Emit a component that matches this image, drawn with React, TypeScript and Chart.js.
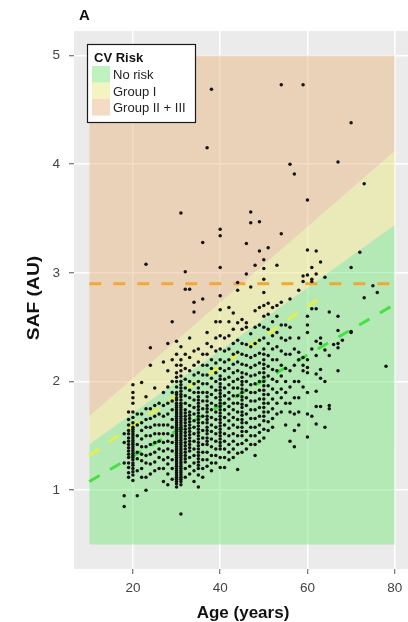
import React, { useEffect, useRef } from "react";
import { Chart, registerables } from "chart.js";

Chart.register(...registerables);

// ---- axis ticks ----
const xTicks = [20, 40, 60, 80];
const yTicks = [1, 2, 3, 4, 5];

// ---- observed points: SAF values per age column ----
const ageColumns = [
  18, 19, 20, 21, 22, 23, 24, 25, 26, 27, 28, 29, 30, 31, 32, 33, 34, 35, 36, 37, 38, 39,
  40, 41, 42, 43, 44, 45, 46, 47, 48, 49, 50, 51, 52, 53, 54, 55, 56, 57, 58, 59, 60, 61,
  62, 63, 64, 65, 66, 67, 68, 70, 72, 73, 75, 76, 78,
];
const safByAge = [
  [0.85, 0.95, 1.25, 1.44, 1.52],
  [1.12, 1.16, 1.21, 1.25, 1.3, 1.33, 1.36, 1.39, 1.42, 1.45, 1.48, 1.52, 1.55, 1.6, 1.65, 1.72],
  [1.09, 1.14, 1.17, 1.2, 1.23, 1.25, 1.28, 1.3, 1.32, 1.34, 1.36, 1.38, 1.4, 1.42, 1.44, 1.46, 1.48, 1.5, 1.52, 1.54, 1.56, 1.58, 1.62, 1.67, 1.72, 1.8, 1.85, 1.9, 1.97],
  [0.95, 1.18, 1.29, 1.35, 1.42, 1.5, 1.6, 1.7],
  [1.12, 1.2, 1.27, 1.33, 1.4, 1.47, 1.55, 1.62, 1.7, 1.99],
  [1.0, 1.12, 1.25, 1.32, 1.4, 1.5, 1.58, 1.65, 1.75, 1.86, 3.08],
  [1.15, 1.24, 1.33, 1.42, 1.5, 1.58, 1.66, 1.75, 2.15, 2.31],
  [1.18, 1.26, 1.35, 1.44, 1.52, 1.6, 1.68, 1.78, 1.94],
  [1.2, 1.3, 1.38, 1.45, 1.52, 1.6, 1.7, 1.8],
  [1.08, 1.2, 1.28, 1.36, 1.44, 1.52, 1.6, 1.68, 1.78, 1.9, 2.18],
  [1.05, 1.15, 1.24, 1.3, 1.38, 1.45, 1.52, 1.6, 1.7, 1.8, 1.95, 2.1, 2.35],
  [1.1, 1.2, 1.28, 1.36, 1.44, 1.5, 1.58, 1.65, 1.74, 1.82, 1.9, 2.0, 2.2, 2.55],
  [1.03, 1.06, 1.08, 1.1, 1.12, 1.14, 1.16, 1.18, 1.2, 1.22, 1.24, 1.26, 1.28, 1.3, 1.32, 1.34, 1.36, 1.38, 1.4, 1.42, 1.44, 1.46, 1.48, 1.5, 1.52, 1.54, 1.56, 1.58, 1.6, 1.62, 1.64, 1.66, 1.68, 1.7, 1.72, 1.74, 1.76, 1.78, 1.8, 1.83, 1.85, 1.88, 1.9, 1.95, 2.0, 2.04, 2.08, 2.15, 2.25, 2.37],
  [0.78, 1.05, 1.08, 1.1, 1.12, 1.14, 1.16, 1.18, 1.2, 1.22, 1.24, 1.26, 1.28, 1.3, 1.32, 1.34, 1.36, 1.38, 1.4, 1.42, 1.44, 1.46, 1.48, 1.5, 1.52, 1.54, 1.56, 1.58, 1.6, 1.62, 1.64, 1.66, 1.68, 1.7, 1.72, 1.74, 1.76, 1.78, 1.8, 1.83, 1.86, 1.88, 1.91, 1.94, 1.97, 2.0, 2.05, 2.1, 2.15, 2.2, 2.32, 3.55],
  [1.12, 1.2, 1.26, 1.29, 1.32, 1.35, 1.38, 1.41, 1.44, 1.47, 1.5, 1.53, 1.56, 1.59, 1.62, 1.65, 1.68, 1.71, 1.74, 1.8, 1.87, 1.94, 2.02, 2.12, 2.25, 2.85, 3.01],
  [1.15, 1.22, 1.3, 1.36, 1.39, 1.42, 1.45, 1.48, 1.51, 1.54, 1.57, 1.6, 1.63, 1.66, 1.69, 1.72, 1.78, 1.85, 1.92, 2.0, 2.1, 2.22, 2.4, 2.85],
  [1.08, 1.18, 1.25, 1.32, 1.38, 1.45, 1.52, 1.58, 1.64, 1.7, 1.76, 1.83, 1.9, 1.98, 2.06, 2.15, 2.28, 2.64, 2.73],
  [1.03, 1.14, 1.2, 1.23, 1.26, 1.29, 1.32, 1.35, 1.38, 1.41, 1.44, 1.47, 1.5, 1.53, 1.56, 1.59, 1.62, 1.65, 1.68, 1.71, 1.74, 1.77, 1.8, 1.83, 1.86, 1.9, 1.94, 2.0, 2.08, 2.18, 2.3],
  [1.12, 1.2, 1.28, 1.35, 1.42, 1.48, 1.55, 1.62, 1.68, 1.75, 1.82, 1.9, 1.98, 2.06, 2.15, 2.25, 2.76, 3.28],
  [1.22, 1.28, 1.35, 1.42, 1.45, 1.48, 1.52, 1.55, 1.58, 1.62, 1.65, 1.68, 1.72, 1.75, 1.78, 1.82, 1.86, 1.9, 1.98, 2.06, 2.15, 2.25, 2.35, 2.45, 4.15],
  [1.18, 1.25, 1.32, 1.4, 1.47, 1.54, 1.6, 1.67, 1.74, 1.8, 1.88, 1.95, 2.03, 2.12, 2.2, 2.32, 4.69],
  [1.25, 1.32, 1.38, 1.45, 1.52, 1.58, 1.65, 1.72, 1.78, 1.85, 1.92, 2.0, 2.08, 2.17, 2.28, 2.4, 2.55],
  [1.21, 1.3, 1.38, 1.41, 1.44, 1.47, 1.5, 1.53, 1.56, 1.59, 1.62, 1.65, 1.68, 1.71, 1.74, 1.77, 1.8, 1.83, 1.86, 1.89, 1.92, 1.95, 1.98, 2.02, 2.05, 2.12, 2.2, 2.3, 2.42, 2.55, 2.66, 2.79, 3.05, 3.34, 3.4],
  [1.21, 1.3, 1.38, 1.45, 1.52, 1.6, 1.67, 1.74, 1.8, 1.87, 1.94, 2.02, 2.1, 2.18, 2.28, 2.4],
  [1.28, 1.35, 1.42, 1.5, 1.57, 1.64, 1.7, 1.77, 1.84, 1.9, 1.97, 2.04, 2.12, 2.2, 2.3, 2.42, 2.55, 2.68],
  [1.3, 1.38, 1.45, 1.52, 1.6, 1.67, 1.74, 1.8, 1.87, 1.94, 2.0, 2.08, 2.16, 2.25, 2.35, 2.48, 2.63],
  [1.19, 1.34, 1.42, 1.5, 1.58, 1.65, 1.72, 1.8, 1.87, 1.94, 2.02, 2.1, 2.18, 2.27, 2.38, 2.54, 2.84, 2.91],
  [1.35, 1.43, 1.5, 1.54, 1.58, 1.62, 1.65, 1.69, 1.72, 1.76, 1.79, 1.83, 1.86, 1.9, 1.93, 1.97, 2.0, 2.04, 2.08, 2.16, 2.25, 2.35, 2.48, 2.57],
  [1.38, 1.46, 1.54, 1.62, 1.7, 1.78, 1.85, 1.92, 2.0, 2.07, 2.15, 2.24, 2.34, 2.5, 2.54, 2.99, 3.27],
  [1.42, 1.5, 1.58, 1.66, 1.74, 1.82, 1.9, 1.97, 2.05, 2.13, 2.22, 2.32, 2.44, 2.87, 3.46, 3.56],
  [1.32, 1.42, 1.5, 1.58, 1.66, 1.74, 1.82, 1.9, 1.98, 2.06, 2.15, 2.24, 2.35, 2.5, 2.65, 3.07],
  [1.45, 1.53, 1.6, 1.68, 1.76, 1.84, 1.92, 2.0, 2.08, 2.17, 2.26, 2.38, 2.52, 2.68, 3.2, 3.47],
  [1.48, 1.56, 1.64, 1.68, 1.72, 1.76, 1.8, 1.84, 1.88, 1.92, 1.96, 2.0, 2.04, 2.08, 2.12, 2.16, 2.2, 2.25, 2.3, 2.4, 2.5, 2.6, 2.7, 2.82, 2.94, 3.04, 3.12],
  [1.55, 1.63, 1.72, 1.8, 1.88, 1.96, 2.05, 2.14, 2.24, 2.35, 2.48, 2.62, 2.72, 3.23],
  [1.58, 1.66, 1.75, 1.84, 1.93, 2.02, 2.11, 2.2, 2.3, 2.42, 2.55, 2.68],
  [1.7, 1.8, 1.9, 2.0, 2.1, 2.2, 2.32, 2.45, 2.6, 2.7, 3.07],
  [1.72, 1.85, 1.93, 2.05, 2.15, 2.28, 2.4, 2.52, 2.73, 3.36, 4.73],
  [1.6, 1.8, 1.9, 2.0, 2.12, 2.25, 2.38, 2.52],
  [1.45, 1.72, 1.8, 1.95, 2.1, 2.25, 2.4, 2.5, 2.76, 4.0],
  [1.4, 1.55, 1.7, 1.85, 2.0, 2.15, 2.3, 3.91],
  [1.6, 1.72, 1.85, 2.0, 2.2, 2.27, 2.4, 2.84],
  [1.95, 2.1, 2.15, 2.22, 2.92, 2.97, 4.73],
  [1.49, 1.7, 1.9, 2.08, 2.13, 2.2, 2.45, 2.52, 2.6, 2.98, 3.21, 3.67],
  [1.68, 2.3, 2.67, 2.92, 2.94, 3.05],
  [1.61, 1.77, 1.91, 2.07, 2.24, 2.37, 2.67, 2.99, 3.2],
  [1.77, 2.03, 2.11, 2.35, 2.4, 3.1],
  [1.58, 2.0, 2.29, 2.96],
  [1.75, 1.78, 2.24, 2.64],
  [2.34],
  [2.1, 2.31, 2.35, 2.47, 2.6, 4.02],
  [2.38],
  [2.45, 2.46, 3.05, 4.38],
  [3.19],
  [2.77, 3.82],
  [2.88],
  [2.82],
  [2.14],
];

// ---- CV risk bands (age 10..80) ----
const bandAges = [10, 80];
const bandBottom = 0.5;
const noRiskUpper = [1.42, 3.44];
const groupIUpper = [1.68, 4.12];
const groupIITop = [5, 5];

// ---- reference lines ----
const thresholdAges = [10, 80];
const thresholdSaf = [2.9, 2.9];
const yellowLineAges = [10, 64];
const yellowLineSaf = [1.32, 2.8];
const greenLineAges = [10, 80];
const greenLineSaf = [1.08, 2.71];

// ---- legend ----
const legendTitle = "CV Risk";
const legendLabels = ["No risk", "Group I", "Group II + III"];

const GREEN_FILL = "rgba(125,229,125,0.5)";
const YELLOW_FILL = "rgba(233,233,133,0.5)";
const ORANGE_FILL = "rgba(233,185,135,0.5)";
const legendColors = [GREEN_FILL, YELLOW_FILL, ORANGE_FILL];

const FONT = "'Liberation Sans', Arial, Helvetica, sans-serif";

const pts = (xs: number[], ys: number[]) => xs.map((x, i) => ({ x, y: ys[i] }));

export default function App() {
  const ref = useRef<HTMLCanvasElement | null>(null);

  useEffect(() => {
    if (!ref.current) return;
    const scatter = ageColumns.flatMap((a, i) => safByAge[i].map((v) => ({ x: a, y: v })));

    const panelBg = {
      id: "panelBg",
      beforeDraw(chart: any) {
        const { ctx, chartArea: a } = chart;
        ctx.save();
        ctx.fillStyle = "#EBEBEB";
        ctx.fillRect(a.left, a.top, a.right - a.left, a.bottom - a.top);
        ctx.restore();
      },
    };

    const texts = {
      id: "texts",
      afterDraw(chart: any) {
        const ctx = chart.ctx;
        ctx.save();
        ctx.fillStyle = "#111";
        ctx.font = `bold 15px ${FONT}`;
        ctx.textAlign = "left";
        ctx.textBaseline = "alphabetic";
        ctx.fillText("A", 79, 20);
        ctx.font = `bold 17px ${FONT}`;
        ctx.textAlign = "center";
        ctx.fillText("Age (years)", 243, 617.5);
        ctx.save();
        ctx.translate(38.5, 298);
        ctx.scale(1, 1.13);
        ctx.rotate(-Math.PI / 2);
        ctx.textAlign = "center";
        ctx.fillText("SAF (AU)", 0, 0);
        ctx.restore();

        const bx = 87, by = 44, bw = 108, bh = 78;
        ctx.fillStyle = "#ffffff";
        ctx.fillRect(bx, by, bw, bh);
        ctx.strokeStyle = "#1a1a1a";
        ctx.lineWidth = 1.2;
        ctx.strokeRect(bx + 0.5, by + 0.5, bw, bh);
        ctx.fillStyle = "#111";
        ctx.font = `bold 13px ${FONT}`;
        ctx.textAlign = "left";
        ctx.fillText(legendTitle, 94, 62);
        const rowTop = [66, 82.5, 99];
        legendLabels.forEach((lab, i) => {
          ctx.fillStyle = legendColors[i];
          ctx.fillRect(92, rowTop[i], 18, 16.5);
          ctx.fillStyle = "#222";
          ctx.font = `13px ${FONT}`;
          ctx.fillText(lab, 113, rowTop[i] + 13);
        });
        ctx.restore();
      },
    };

    const lineDs = (data: any[], color: string) => ({
      type: "line",
      data,
      borderColor: color,
      borderWidth: 3,
      borderDash: [12, 12],
      borderCapStyle: "butt",
      pointRadius: 0,
      fill: false,
      tension: 0,
      order: 1,
    });

    const bandDs = (data: any[], color: string, fill: any) => ({
      type: "line",
      data,
      borderWidth: 0,
      borderColor: "rgba(0,0,0,0)",
      backgroundColor: color,
      pointRadius: 0,
      fill,
      tension: 0,
      order: 5,
    });

    const chart = new Chart(ref.current, {
      type: "scatter",
      data: {
        datasets: [
          {
            type: "scatter",
            data: scatter,
            pointRadius: 1.75,
            pointBackgroundColor: "#141414",
            pointBorderWidth: 0,
            pointStyle: "circle",
            order: 0,
          } as any,
          lineDs(pts(greenLineAges, greenLineSaf), "rgba(60,225,60,0.95)"),
          lineDs(pts(yellowLineAges, yellowLineSaf), "rgba(228,240,70,0.95)"),
          lineDs(pts(thresholdAges, thresholdSaf), "rgba(240,165,50,0.95)"),
          bandDs(pts(bandAges, noRiskUpper), GREEN_FILL, { value: bandBottom }),
          bandDs(pts(bandAges, groupIUpper), YELLOW_FILL, 4),
          bandDs(pts(bandAges, groupIITop), ORANGE_FILL, 5),
        ] as any,
      },
      options: {
        responsive: false,
        animation: false,
        devicePixelRatio: 1,
        layout: { padding: { top: 31, right: 10, left: 0, bottom: 0 } },
        plugins: { legend: { display: false }, tooltip: { enabled: false }, title: { display: false } },
        scales: {
          x: {
            type: "linear",
            min: 6.5,
            max: 83.5,
            afterBuildTicks: (s: any) => {
              s.ticks = xTicks.map((v) => ({ value: v }));
            },
            afterFit: (s: any) => {
              s.height = 53;
            },
            grid: { color: "#ffffff", lineWidth: 1.5, tickColor: "#555555", tickLength: 5, tickWidth: 1 },
            border: { display: false },
            ticks: { color: "#444444", font: { family: FONT, size: 13.5 }, padding: 6, maxRotation: 0 },
          },
          y: {
            type: "linear",
            min: 0.275,
            max: 5.225,
            afterBuildTicks: (s: any) => {
              s.ticks = yTicks.map((v) => ({ value: v }));
            },
            afterFit: (s: any) => {
              s.width = 74;
            },
            grid: { color: "#ffffff", lineWidth: 1.5, tickColor: "#555555", tickLength: 5, tickWidth: 1 },
            border: { display: false },
            ticks: { color: "#444444", font: { family: FONT, size: 13.5 }, padding: 9 },
          },
        },
      } as any,
      plugins: [panelBg, texts],
    });
    return () => chart.destroy();
  }, []);

  return (
    <div
      style={{
        position: "fixed",
        left: 0,
        top: 0,
        width: 408,
        height: 622,
        overflow: "hidden",
        background: "#ffffff",
      }}
    >
      <canvas ref={ref} width={420} height={622} style={{ display: "block", width: 420, height: 622 }} />
    </div>
  );
}
